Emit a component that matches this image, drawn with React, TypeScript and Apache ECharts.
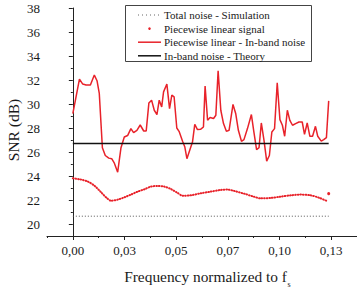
import React, { useEffect, useRef } from 'react';
import * as echarts from 'echarts';

// ---- data ----
const xTickValues = [0, 0.025, 0.05, 0.075, 0.1, 0.125];
const xTickLabels = ['0,00', '0,03', '0,05', '0,07', '0,10', '0,13'];
const xMinorTicks = [-0.0125, 0.0125, 0.0375, 0.0625, 0.0875, 0.1125, 0.1375];
const yTickValues = [20, 22, 24, 26, 28, 30, 32, 34, 36, 38];
const yMinorTicks = [19, 21, 23, 25, 27, 29, 31, 33, 35, 37];

const xAxisTitle = 'Frequency normalized to f';
const xAxisTitleSub = 's';
const yAxisTitle = 'SNR (dB)';

const seriesNames = [
  'Total noise - Simulation',
  'Piecewise linear signal',
  'Piecewise linear - In-band noise',
  'In-band noise - Theory',
];

const totalNoiseFreq = [0, 0.1238];
const totalNoiseSnr = [20.65, 20.65];

const theoryFreq = [0, 0.1238];
const theorySnr = [26.7, 26.7];

const signalFreq = [
  0, 0.004, 0.0072, 0.0104, 0.0137, 0.0161, 0.0185, 0.0217, 0.0249, 0.0281,
  0.0314, 0.0346, 0.0378, 0.041, 0.0442, 0.0474, 0.0507, 0.0531, 0.0571, 0.0619,
  0.0668, 0.0716, 0.0748, 0.078, 0.0828, 0.0876, 0.0909, 0.0957, 0.1005, 0.1054,
  0.1102, 0.115, 0.119, 0.1226,
];
const signalSnr = [
  23.81, 23.7, 23.54, 23.2, 22.64, 22.22, 21.94, 22.03, 22.22, 22.45,
  22.7, 22.89, 23.12, 23.17, 23.12, 22.92, 22.59, 22.36, 22.39, 22.56,
  22.7, 22.84, 22.87, 22.76, 22.53, 22.28, 22.14, 22.17, 22.28, 22.39,
  22.45, 22.39, 22.2, 21.94,
];
const signalLastFreq = 0.1238;
const signalLastSnr = 22.53;

const noiseFreq = [
  0, 0.0032, 0.0048, 0.0064, 0.0085, 0.0104, 0.0117, 0.0128, 0.0143, 0.0157,
  0.0174, 0.0188, 0.0201, 0.0217, 0.0233, 0.0249, 0.0265, 0.0281, 0.0294, 0.031,
  0.0326, 0.0343, 0.0355, 0.0368, 0.0381, 0.0394, 0.0407, 0.0418, 0.043, 0.0439,
  0.0455, 0.0468, 0.0479, 0.049, 0.0503, 0.0514, 0.0531, 0.0542, 0.0552, 0.0568,
  0.0579, 0.059, 0.0603, 0.0619, 0.0632, 0.064, 0.0652, 0.0664, 0.0681, 0.0692,
  0.0703, 0.0716, 0.0729, 0.0743, 0.0756, 0.0775, 0.0788, 0.0801, 0.0816, 0.0828,
  0.0845, 0.0864, 0.0876, 0.0889, 0.0901, 0.0912, 0.0925, 0.0938, 0.0951, 0.0963,
  0.0976, 0.0989, 0.1002, 0.1014, 0.1025, 0.1038, 0.105, 0.1063, 0.1078, 0.1094,
  0.111, 0.1121, 0.1134, 0.1147, 0.116, 0.1174, 0.1185, 0.1202, 0.1214, 0.1227,
  0.1238,
];
const noiseSnr = [
  29.2, 32.08, 31.66, 31.58, 31.58, 32.41, 31.94, 30.88, 26.36, 25.71,
  25.49, 25.44, 25.07, 24.32, 26.36, 27.25, 27.37, 27.95, 27.61, 27.81,
  28.25, 27.75, 27.75, 30.09, 30.32, 29.48, 29.12, 30.32, 29.76, 31.01,
  31.66, 29.62, 30.74, 30.6, 28.0, 27.72, 26.89, 26.41, 25.44, 26.27,
  26.83, 28.31, 27.87, 27.9, 28.08, 31.49, 28.64, 28.87, 28.79, 29.06,
  32.77, 29.48, 28.37, 27.72, 27.81, 29.96, 29.21, 27.81, 26.89, 27.03,
  27.95, 29.12, 27.67, 26.19, 26.36, 28.42, 26.97, 25.24, 25.71, 27.67,
  27.95, 31.77, 28.7, 28.23, 27.31, 29.48, 28.64, 28.23, 28.37, 28.5,
  28.5, 27.47, 28.42, 27.31, 27.31, 28.14, 27.31, 26.91, 27.03, 27.2,
  30.26,
];

const RED = '#e8222a';
const SERIF = '"Liberation Serif", "Times New Roman", serif';
const TXT = '#1a1a1a';

const zip = (xs: number[], ys: number[]) => xs.map((x, i) => [x, ys[i]]);

export default function App() {
  const ref = useRef<HTMLDivElement>(null);

  useEffect(() => {
    if (!ref.current) return;
    const chart = echarts.init(ref.current, undefined, { renderer: 'svg' });

    const legendTop = 15;
    const legendStep = 13.6;
    const iconX0 = 138;
    const iconX1 = 161;
    const textX = 164;

    const graphics: any[] = [
      {
        type: 'rect',
        shape: { x: 125.5, y: 5.5, width: 186, height: 56 },
        style: { fill: '#fff', stroke: '#444', lineWidth: 1 },
        z: 100,
      },
      {
        type: 'line',
        shape: { x1: iconX0, y1: legendTop, x2: iconX1, y2: legendTop },
        style: { stroke: '#666', lineWidth: 1, lineDash: [1, 3] },
        z: 101,
      },
      {
        type: 'circle',
        shape: { cx: (iconX0 + iconX1) / 2, cy: legendTop + legendStep, r: 1.3 },
        style: { fill: RED },
        z: 101,
      },
      {
        type: 'line',
        shape: { x1: iconX0, y1: legendTop + 2 * legendStep, x2: iconX1, y2: legendTop + 2 * legendStep },
        style: { stroke: RED, lineWidth: 1.5 },
        z: 101,
      },
      {
        type: 'line',
        shape: { x1: iconX0, y1: legendTop + 3 * legendStep, x2: iconX1, y2: legendTop + 3 * legendStep },
        style: { stroke: '#111', lineWidth: 1.5 },
        z: 101,
      },
      ...seriesNames.map((name, i) => ({
        type: 'text',
        x: textX,
        y: legendTop + i * legendStep,
        style: {
          text: name,
          font: `11px ${SERIF}`,
          fill: TXT,
          verticalAlign: 'middle',
          align: 'left',
        },
        z: 101,
      })),
      // axis titles
      {
        type: 'text',
        x: 287,
        y: 276.5,
        style: {
          text: xAxisTitle,
          font: `15.4px ${SERIF}`,
          fill: TXT,
          align: 'right',
          verticalAlign: 'middle',
        },
      },
      {
        type: 'text',
        x: 287.5,
        y: 284,
        style: {
          text: xAxisTitleSub,
          font: `8px ${SERIF}`,
          fill: TXT,
          align: 'left',
          verticalAlign: 'middle',
        },
      },
      {
        type: 'text',
        x: 13,
        y: 130,
        rotation: Math.PI / 2,
        style: {
          text: yAxisTitle,
          font: `15.5px ${SERIF}`,
          fill: TXT,
          align: 'center',
          verticalAlign: 'middle',
        },
      },
    ];

    const tickRich = { t: { fontFamily: SERIF, fontSize: 13, color: TXT } };

    chart.setOption({
      animation: false,
      backgroundColor: '#fff',
      grid: { left: 47, top: 8, width: 310, height: 228, containLabel: false },
      xAxis: [
        {
          type: 'value',
          min: -0.0125,
          max: 0.1375,
          interval: 0.0125,
          position: 'bottom',
          axisLine: { show: true, lineStyle: { color: '#222', width: 1 } },
          axisTick: { show: true, customValues: xTickValues, length: 4, lineStyle: { color: '#222' } },
          axisLabel: {
            margin: 8,
            customValues: xTickValues,
            formatter: (v: number) => `{t|${xTickLabels[Math.round(v / 0.025)] ?? ''}}`,
            rich: tickRich,
          },
          splitLine: { show: false },
        },
        {
          type: 'value',
          min: -0.0125,
          max: 0.1375,
          interval: 0.0125,
          position: 'bottom',
          offset: 0,
          axisLine: { show: false },
          axisTick: { show: true, customValues: xMinorTicks, length: 2, lineStyle: { color: '#222' } },
          axisLabel: { show: false },
          splitLine: { show: false },
        },
      ],
      yAxis: [
        {
          type: 'value',
          min: 19,
          max: 38,
          interval: 1,
          position: 'left',
          axisLine: { show: true, lineStyle: { color: '#222', width: 1 } },
          axisTick: { show: true, customValues: yTickValues, length: 4, lineStyle: { color: '#222' } },
          axisLabel: {
            margin: 7,
            customValues: yTickValues,
            formatter: (v: number) => `{t|${v}}`,
            rich: tickRich,
          },
          splitLine: { show: false },
        },
        {
          type: 'value',
          min: 19,
          max: 38,
          interval: 1,
          position: 'left',
          offset: 0,
          axisLine: { show: false },
          axisTick: { show: true, customValues: yMinorTicks, length: 2, lineStyle: { color: '#222' } },
          axisLabel: { show: false },
          splitLine: { show: false },
        },
      ],
      series: [
        {
          name: seriesNames[0],
          type: 'line',
          data: zip(totalNoiseFreq, totalNoiseSnr),
          showSymbol: false,
          symbol: 'none',
          lineStyle: { color: '#555', width: 1, type: [1, 2] },
          z: 3,
        },
        {
          name: seriesNames[1],
          type: 'line',
          data: [
            ...zip(signalFreq, signalSnr),
            null,
            { value: [signalLastFreq, signalLastSnr], symbol: 'circle', symbolSize: 3 },
          ],
          connectNulls: false,
          smooth: 0.3,
          symbol: 'none',
          showSymbol: true,
          itemStyle: { color: RED },
          lineStyle: { color: RED, width: 2, type: [0.6, 2], cap: 'round' },
          z: 3,
        },
        {
          name: seriesNames[2],
          type: 'line',
          data: zip(noiseFreq, noiseSnr),
          showSymbol: false,
          symbol: 'none',
          lineStyle: { color: RED, width: 1.5 },
          z: 4,
        },
        {
          name: seriesNames[3],
          type: 'line',
          data: zip(theoryFreq, theorySnr),
          showSymbol: false,
          symbol: 'none',
          lineStyle: { color: '#111', width: 1.5 },
          z: 5,
        },
      ],
      graphic: graphics,
    });

    return () => chart.dispose();
  }, []);

  return (
    <div
      ref={ref}
      style={{ position: 'fixed', left: 0, top: 0, width: 357, height: 287, background: '#fff' }}
    />
  );
}
